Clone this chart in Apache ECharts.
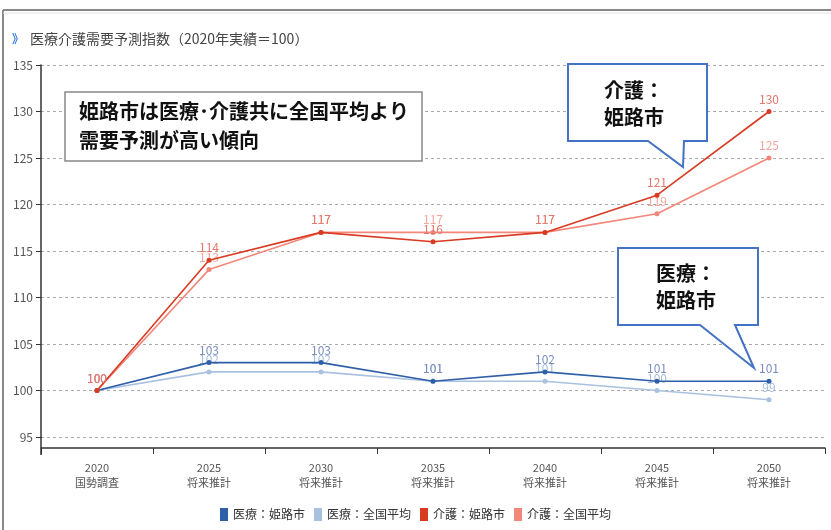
<!DOCTYPE html>
<html><head><meta charset="utf-8">
<script src="https://cdn.jsdelivr.net/npm/echarts@6/dist/echarts.min.js"></script>
<style>html,body{margin:0;padding:0;background:#fff}#c{width:831px;height:530px}</style>
</head><body><div id="c"></div>
<script>
const categories = ['2020\n国勢調査','2025\n将来推計','2030\n将来推計','2035\n将来推計','2040\n将来推計','2045\n将来推計','2050\n将来推計'];
const iryoHimeji = [100,103,103,101,102,101,101];
const iryoZenkoku = [100,102,102,101,101,100,99];
const kaigoHimeji = [100,114,117,116,117,121,130];
const kaigoZenkoku = [100,113,117,117,117,119,125];
const seriesNames = ['医療：姫路市','医療：全国平均','介護：姫路市','介護：全国平均'];
const yTicks = {min:95, max:135, interval:5};

const NARROW = '"Liberation Sans Narrow","Noto Sans CJK JP",sans-serif';
const JP = '"Noto Sans CJK JP",sans-serif';
const chart = echarts.init(document.getElementById('c'));

function mk(name, data, color, labelColor, z){
  return {
    name, type:'line', data, z,
    symbol:'circle', symbolSize:5,
    lineStyle:{color, width:1.6},
    itemStyle:{color},
    label:{show:true, position:'top', distance:4, color:labelColor, fontSize:12, fontFamily:NARROW},
    emphasis:{disabled:true}
  };
}

function callout(pts){
  return {type:'polygon', shape:{points:pts}, style:{fill:'#fff', stroke:'#4472C4', lineWidth:2}, z:10};
}

chart.setOption({
  animation:false,
  grid:{left:41, right:6, top:65, bottom:93, containLabel:false},
  legend:{
    data:seriesNames, bottom:4, left:'center', icon:'rect', itemWidth:8, itemHeight:13, itemGap:9,
    textStyle:{fontSize:12, color:'#333', fontFamily:JP}
  },
  xAxis:{
    type:'category', data:categories, boundaryGap:true, offset:11,
    axisLine:{lineStyle:{color:'#333', width:1.5}},
    axisTick:{show:true, length:6, lineStyle:{color:'#333'}},
    axisLabel:{fontSize:11, color:'#555', lineHeight:15, margin:12, fontFamily:NARROW}
  },
  yAxis:{
    type:'value', min:yTicks.min, max:yTicks.max, interval:yTicks.interval,
    axisLine:{show:true, lineStyle:{color:'#333', width:1.5}},
    axisTick:{show:true, length:5, lineStyle:{color:'#333'}},
    axisLabel:{fontSize:12, color:'#555', margin:8, fontFamily:NARROW},
    splitLine:{show:true, lineStyle:{color:'#aaa', type:[3,3], width:1}}
  },
  series:[
    mk(seriesNames[0], iryoHimeji, '#2E5FA8', '#7C8DC4', 4),
    mk(seriesNames[1], iryoZenkoku, '#A9C1E0', '#A6BDDF', 3),
    mk(seriesNames[2], kaigoHimeji, '#D93A22', '#E6766C', 6),
    mk(seriesNames[3], kaigoZenkoku, '#F2877A', '#F5A79C', 5)
  ],
  graphic:[
    {type:'line', shape:{x1:3, y1:10, x2:3, y2:530}, style:{stroke:'#888', lineWidth:2}, z:1},
    {type:'line', shape:{x1:3, y1:10, x2:831, y2:10}, style:{stroke:'#888', lineWidth:2}, z:1},
    {type:'line', shape:{x1:3, y1:13, x2:831, y2:13}, style:{stroke:'#e2e2e2', lineWidth:1}, z:1},
    {type:'line', shape:{x1:41, y1:437, x2:41, y2:455}, style:{stroke:'#333', lineWidth:1.5}, z:1},
    {type:'text', left:12, top:33, style:{text:'》', fill:'#3B7DD8', font:'bold 12px '+JP}},
    {type:'text', left:30, top:32, style:{text:'医療介護需要予測指数（2020年実績＝100）', fill:'#444', font:'14px '+JP}},
    {type:'rect', shape:{x:65, y:92, width:357, height:69}, style:{fill:'#fff', stroke:'#888', lineWidth:1.5}, z:10},
    {type:'text', left:79, top:97, z:11, style:{text:'姫路市は医療･介護共に全国平均より\n需要予測が高い傾向', fill:'#111', font:'bold 20px '+JP, lineHeight:29}},
    callout([[568,64],[707,64],[707,141],[684,141],[683,167],[648,141],[568,141]]),
    {type:'text', z:11, left:604, top:77, style:{text:'介護：\n姫路市', fill:'#111', font:'bold 20px '+JP, lineHeight:27}},
    callout([[618,248],[758,248],[758,325],[735,325],[754,368],[700,325],[618,325]]),
    {type:'text', z:11, left:656, top:260, style:{text:'医療：\n姫路市', fill:'#111', font:'bold 20px '+JP, lineHeight:27}}
  ]
});
</script></body></html>
